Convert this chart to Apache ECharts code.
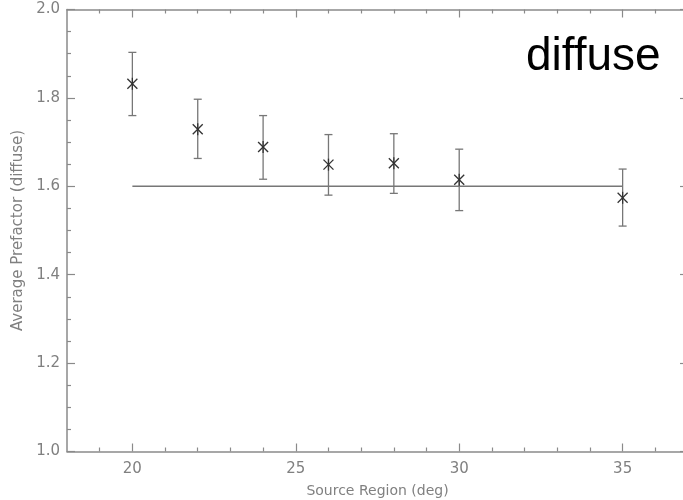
<!DOCTYPE html>
<html>
<head>
<meta charset="utf-8">
<script src="https://cdn.jsdelivr.net/npm/echarts@6/dist/echarts.min.js"></script>
<style>html,body{margin:0;padding:0;background:#fff;overflow:hidden;width:683px;height:500px}#c{width:700px;height:500px}</style>
</head>
<body>
<div id="c"></div>
<script>
// ---- data ----
var regions = [20, 22, 24, 26, 28, 30, 35];
var prefactor = [1.832, 1.729, 1.689, 1.649, 1.652, 1.615, 1.574];
var errLow = [1.760, 1.663, 1.616, 1.580, 1.584, 1.545, 1.510];
var errHigh = [1.903, 1.797, 1.760, 1.717, 1.719, 1.684, 1.639];
var fitX = [20, 35];
var fitY = [1.6, 1.6];
var xMajorTicks = [20, 25, 30, 35];
var xMinorTicks = [19, 21, 22, 23, 24, 26, 27, 28, 29, 31, 32, 33, 34, 36];
var xRange = [18, 37];
var yRange = [1.0, 2.0];
var xTitle = 'Source Region (deg)';
var yTitle = 'Average Prefactor (diffuse)';
var panelLabel = 'diffuse';

var axisGray = '#8a8a8a';
var textGray = '#808080';
var font = 'DejaVu Sans';

var points = regions.map(function (x, i) { return [x, prefactor[i], errLow[i], errHigh[i]]; });
var fitLine = fitX.map(function (x, i) { return [x, fitY[i]]; });

function xAxisDef(pos, ticks, len, showLabel, showLine) {
  return {
    type: 'value', position: pos, min: xRange[0], max: xRange[1],
    axisLine: { show: showLine, onZero: false, lineStyle: { color: axisGray, width: 1.5 } },
    axisTick: { show: true, inside: true, length: len, customValues: ticks, lineStyle: { color: axisGray, width: 1.2 } },
    axisLabel: showLabel ? { show: true, customValues: ticks, color: textGray, fontFamily: font, fontSize: 15, margin: 10 } : { show: false },
    splitLine: { show: false },
    name: showLabel ? xTitle : '', nameLocation: 'middle', nameGap: 33,
    nameTextStyle: { color: textGray, fontFamily: font, fontSize: 14 }
  };
}
function yAxisDef(pos, showLabel) {
  return {
    type: 'value', position: pos, min: yRange[0], max: yRange[1], interval: 0.2,
    axisLine: { show: true, onZero: false, lineStyle: { color: axisGray, width: 1.5 } },
    axisTick: { show: true, inside: true, length: 8, lineStyle: { color: axisGray, width: 1.2 } },
    minorTick: { show: true, splitNumber: 4, length: 4, lineStyle: { color: axisGray, width: 1.2 } },
    axisLabel: showLabel ? { show: true, color: textGray, fontFamily: font, fontSize: 15, margin: 7,
      formatter: function (v) { return v.toFixed(1); } } : { show: false },
    splitLine: { show: false }, minorSplitLine: { show: false },
    name: showLabel ? yTitle : '', nameLocation: 'middle', nameGap: 41,
    nameTextStyle: { color: textGray, fontFamily: font, fontSize: 15 }
  };
}

var chart = echarts.init(document.getElementById('c'), null, { renderer: 'canvas' });
chart.setOption({
  animation: false,
  backgroundColor: '#fff',
  grid: { left: 67, width: 621, top: 9.5, bottom: 48.5, containLabel: false, outerBoundsMode: 'none' },
  xAxis: [
    xAxisDef('bottom', xMajorTicks, 8, true, true),
    xAxisDef('bottom', xMinorTicks, 4, false, false),
    xAxisDef('top', xMajorTicks, 8, false, true),
    xAxisDef('top', xMinorTicks, 4, false, false)
  ],
  yAxis: [yAxisDef('left', true), yAxisDef('right', false)],
  graphic: [{
    type: 'text', left: 526, top: 34, z: 100,
    style: { text: panelLabel, fontFamily: 'Liberation Sans', fontSize: 46, fill: '#000' }
  }],
  series: [
    {
      type: 'line', xAxisIndex: 0, yAxisIndex: 0, data: fitLine, symbol: 'none',
      lineStyle: { color: '#777', width: 1.5 }, z: 2
    },
    {
      type: 'custom', xAxisIndex: 0, yAxisIndex: 0, data: points, z: 3,
      renderItem: function (params, api) {
        var c = api.coord([api.value(0), api.value(1)]);
        var lo = api.coord([api.value(0), api.value(2)]);
        var hi = api.coord([api.value(0), api.value(3)]);
        var cap = 4, s = 5;
        var eb = { stroke: '#777', lineWidth: 1.3 };
        var mk = { stroke: '#333', lineWidth: 1.3 };
        return {
          type: 'group', children: [
            { type: 'line', shape: { x1: lo[0], y1: lo[1], x2: hi[0], y2: hi[1] }, style: eb },
            { type: 'line', shape: { x1: lo[0] - cap, y1: lo[1], x2: lo[0] + cap, y2: lo[1] }, style: eb },
            { type: 'line', shape: { x1: hi[0] - cap, y1: hi[1], x2: hi[0] + cap, y2: hi[1] }, style: eb },
            { type: 'line', shape: { x1: c[0] - s, y1: c[1] - s, x2: c[0] + s, y2: c[1] + s }, style: mk },
            { type: 'line', shape: { x1: c[0] - s, y1: c[1] + s, x2: c[0] + s, y2: c[1] - s }, style: mk },
            { type: 'line', shape: { x1: c[0], y1: c[1] - s - 1, x2: c[0], y2: c[1] + s + 1 }, style: mk }
          ]
        };
      }
    }
  ]
});
</script>
</body>
</html>
